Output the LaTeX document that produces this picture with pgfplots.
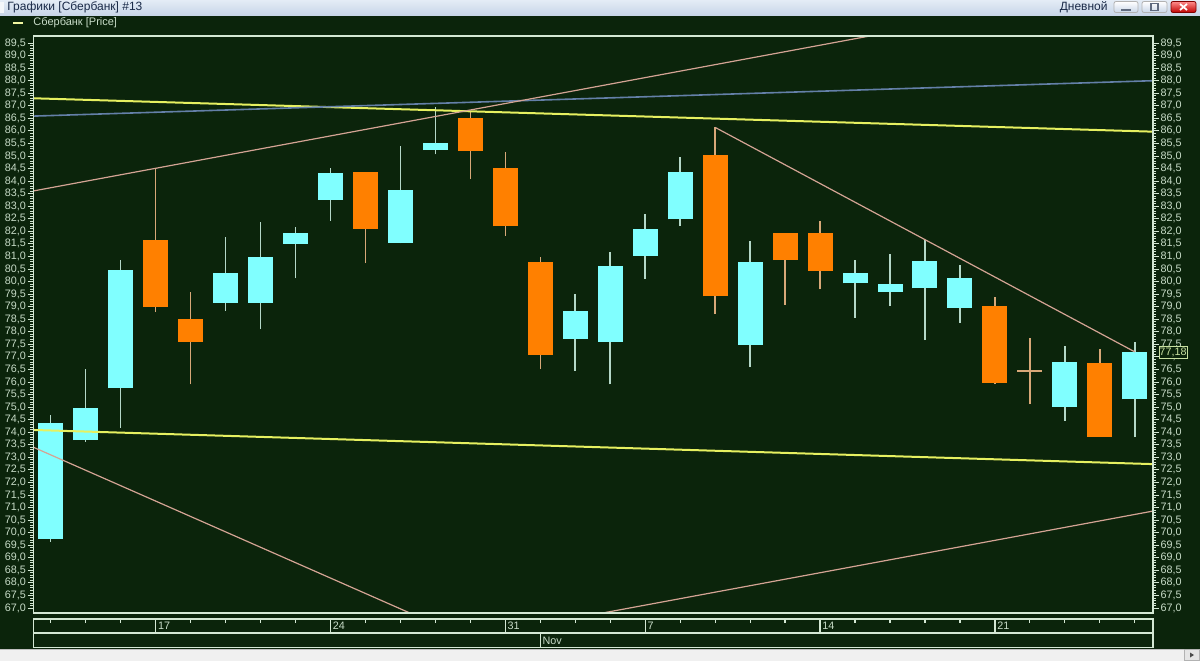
\documentclass[border=0pt]{standalone}
\usepackage{fontspec}
\setmainfont{Liberation Sans}
\usepackage{pgfplots}
\usepackage{pgfplotstable}
\pgfplotsset{compat=1.18}

\definecolor{bg}{HTML}{0B240B}
\definecolor{frame}{HTML}{D4E8D4}
\definecolor{lbl}{HTML}{C8DCC8}
\definecolor{bull}{HTML}{80FFFF}
\definecolor{bear}{HTML}{FF8000}
\definecolor{bullwick}{HTML}{B4D8C8}
\definecolor{bearwick}{HTML}{D8A878}
\definecolor{chan}{HTML}{E6F060}
\definecolor{blueln}{HTML}{6480A8}
\definecolor{trend}{HTML}{D4A494}
\definecolor{titletop}{HTML}{E4ECF6}
\definecolor{titlebot}{HTML}{C8D6E8}
\definecolor{titletext}{HTML}{1A2A48}
\definecolor{pricebox}{HTML}{C8E0A0}

% daily OHLC, Сбербанк, 12 Oct -- 25 Nov (i = trading-day index)
\pgfplotstableread{
i  o     h     l     c
0  69.74 74.70 69.63 74.38
1  73.69 76.51 73.62 74.98
2  75.75 80.87 74.18 80.47
5  79.16 81.79 78.84 80.33
6  79.16 82.38 78.11 80.99
7  81.50 82.19 80.13 81.93
8  83.25 84.51 82.43 84.31
10 81.55 85.38 81.52 83.65
11 85.24 86.96 85.07 85.53
15 77.71 79.52 76.44 78.82
16 77.61 81.19 75.91 80.64
17 81.03 82.68 80.10 82.09
18 82.48 84.97 82.21 84.35
20 77.49 81.62 76.59 80.79
23 79.93 80.86 78.56 80.36
24 79.58 81.08 79.04 79.92
25 79.73 81.66 77.67 80.83
26 78.96 80.66 78.36 80.13
29 75.02 77.45 74.45 76.81
31 75.31 77.61 73.80 77.18
}\bulldata

\pgfplotstableread{
i  o     h     l     c
3  81.66 84.51 78.78 79.00
4  78.51 79.57 75.91 77.61
9  84.35 84.38 80.73 82.11
12 86.53 86.77 84.08 85.20
13 84.54 85.16 81.83 82.20
14 80.77 80.99 76.53 77.08
19 85.04 86.14 78.71 79.41
21 81.95 81.95 79.07 80.85
22 81.95 82.43 79.69 80.43
27 79.03 79.37 75.92 75.97
28 76.44 77.76 75.12 76.44
30 76.74 77.31 73.82 73.82
}\beardata

\pgfplotsset{
  priceaxis/.style={
    at={(16.75pt,24pt)}, anchor=south west,
    width=559.75pt, height=288.5pt, scale only axis,
    xmin=-0.49, xmax=31.52, ymin=66.8, ymax=89.78,
    axis line style={frame, line width=0.75pt},
    xtick=\empty,
    ytick={67,67.5,...,89.6}, minor y tick num=4,
    tick align=outside,
    major tick length=3pt, minor tick length=1.6pt,
    every tick/.style={frame, line width=0.45pt},
    every minor tick/.style={frame, line width=0.4pt},
    yticklabel style={font=\fontsize{5.4}{6}\selectfont, text=lbl, inner sep=0.6pt,
      /pgf/number format/.cd, fixed, fixed zerofill, precision=1, use comma,
      assume math mode=true},
  },
  wick/.style={draw=none, mark=none, forget plot,
    error bars/.cd, y dir=plus, y explicit, error mark=none,
    error bar style={draw=#1, line width=0.75pt}},
  body/.style={draw=none, mark=none, forget plot,
    error bars/.cd, y dir=plus, y explicit, error mark=none,
    error bar style={draw=#1, line width=12.5pt}},
}

\begin{document}
\begin{tikzpicture}
\useasboundingbox (0,0) rectangle (600pt,330.5pt);
\begin{scope}[x=0.5pt,y=0.5pt]
\fill[bg] (0,0) rectangle (1200,661);

% window title bar
\shade[top color=titletop, bottom color=titlebot] (0,646) rectangle (1200,661);
\fill[white!80!titlebot] (0,648) rectangle (4,659);
\node[anchor=west, font=\fontsize{6}{7}\selectfont, text=titletext, inner sep=0pt] at (7,653.5) {Графики [Сбербанк] \#13};
\node[anchor=east, font=\fontsize{6}{7}\selectfont, text=titletext, inner sep=0pt] at (1108,653.5) {Дневной};
\shade[top color=white, bottom color=titlebot, draw=gray!60, rounded corners=1pt] (1114,648.5) rectangle (1138,659.5);
\draw[titletext!70, line width=1pt] (1121,651.5) -- (1131,651.5);
\shade[top color=white, bottom color=titlebot, draw=gray!60, rounded corners=1pt] (1142,648.5) rectangle (1167,659.5);
\draw[titletext!70, line width=0.6pt] (1151,650.5) rectangle (1158,657.5);
\shade[top color=red!45, bottom color=red!75!black, draw=red!50!black, rounded corners=1pt] (1171,648.5) rectangle (1196,659.5);
\draw[white, line width=0.9pt] (1180,651) -- (1187,657) (1180,657) -- (1187,651);

% legend row
\draw[chan!60!white, line width=0.6pt] (13,638) -- (23,638);
\node[anchor=west, font=\fontsize{5.5}{6.5}\selectfont, text=lbl, inner sep=0pt] at (33,638) {Сбербанк [Price]};
\end{scope}

% left scale with the candles and lines
\begin{axis}[priceaxis, ytick pos=left, yticklabel pos=left,
             axis background/.style={fill=bg}]
  % wicks
  \addplot[wick=bullwick] table[x=i, y=l, y error expr=\thisrow{h}-\thisrow{l}] {\bulldata};
  \addplot[wick=bearwick] table[x=i, y=l, y error expr=\thisrow{h}-\thisrow{l}] {\beardata};
  % bodies
  \addplot[body=bull] table[x=i, y=o, y error expr=\thisrow{c}-\thisrow{o}] {\bulldata};
  \addplot[body=bear] table[x=i, y=c, y error expr=\thisrow{o}-\thisrow{c}] {\beardata};
  % doji on 22 Nov
  \addplot[bearwick, line width=0.75pt] coordinates {(27.64,76.44) (28.36,76.44)};
  % regression channel
  \addplot[chan, line width=1pt] coordinates {(-0.49,87.30) (31.52,85.97)};
  \addplot[chan, line width=1pt] coordinates {(-0.49,74.09) (31.52,72.73)};
  \addplot[blueln, line width=0.8pt] coordinates {(-0.49,86.59) (31.52,88.00)};
  % trend lines
  \addplot[trend, line width=0.6pt] coordinates {(-0.49,83.61) (31.52,91.87)};
  \addplot[trend, line width=0.6pt] coordinates {(-0.49,73.40) (12,65.74)};
  \addplot[trend, line width=0.6pt] coordinates {(14,66.34) (31.52,70.86)};
  \addplot[trend, line width=0.6pt] coordinates {(19,86.14) (31,77.20)};
\end{axis}

% right scale
\begin{axis}[priceaxis, ytick pos=right, yticklabel pos=right]
\end{axis}

\begin{scope}[x=0.5pt,y=0.5pt]
% last price
\node[draw=pricebox, fill=bg, text=pricebox, line width=0.5pt,
      font=\fontsize{5.4}{6}\selectfont, inner sep=0pt,
      minimum width=14pt, minimum height=5.6pt] at (1173,308.5) {77,18};

% time scale
\begin{scope}[frame, line width=0.6pt]
  \draw (33.5,42) rectangle (1153,28);
  \draw (33.5,28) rectangle (1153,13.5);
  \foreach \i in {0,...,31} \draw ({50.7+34.97*\i},42) -- ++(0,-4);
  \foreach \i/\d in {3/17,8/24,13/31,17/7,22/14,27/21}{
    \draw ({50.7+34.97*\i},42) -- ({50.7+34.97*\i},28);
    \node[anchor=west, text=lbl, font=\fontsize{5.4}{6}\selectfont, inner sep=0pt] at ({52.5+34.97*\i},35) {\d};
  }
  \draw ({50.7+34.97*14},28) -- ({50.7+34.97*14},13.5);
  \node[anchor=west, text=lbl, font=\fontsize{5.4}{6}\selectfont, inner sep=0pt] at ({52.5+34.97*14},20.5) {Nov};
\end{scope}

% scroll bar
\fill[gray!12] (0,0) rectangle (1200,12);
\draw[gray!50] (0,12) -- (1200,12);
\draw[gray!60, fill=gray!20] (1184,0.5) rectangle (1199.5,11.5);
\fill[black!70] (1190,3.5) -- (1194,6) -- (1190,8.5) -- cycle;
\end{scope}
\end{tikzpicture}
\end{document}
